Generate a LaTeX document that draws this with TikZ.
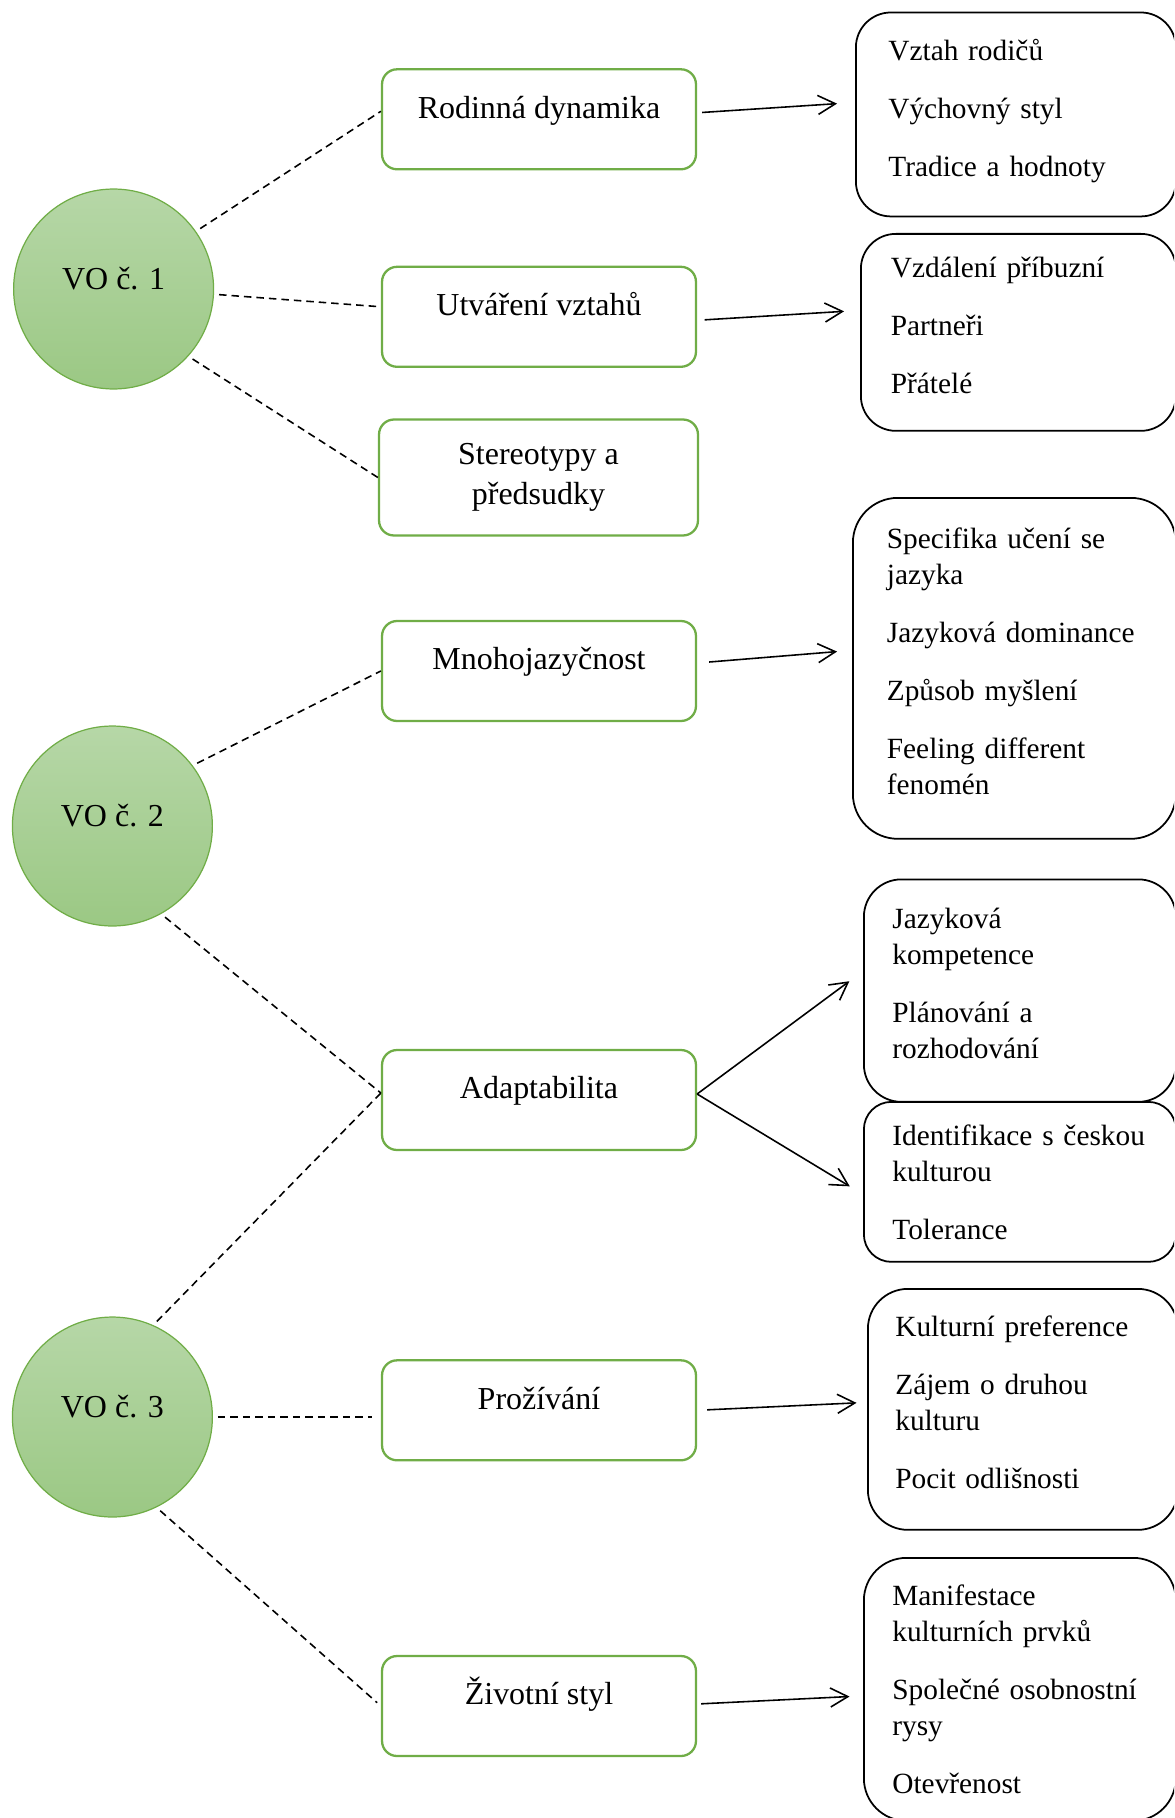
\documentclass[tikz,border=0pt]{standalone}
\usepackage{fontspec}
\setmainfont{Liberation Serif}
\usepackage{tikz}
\usetikzlibrary{arrows.meta, positioning}
\definecolor{vogreen}{RGB}{112,173,71}
\definecolor{votop}{RGB}{182,215,167}
\definecolor{vobottom}{RGB}{155,200,132}

\begin{document}
\begin{tikzpicture}[
    x=0.02cm, y=-0.02cm,
    every node/.style={font=\fontsize{18.2}{23}\selectfont},
    vo/.style={circle, draw=vogreen, line width=0.7pt, minimum size=4cm, top color=votop, bottom color=vobottom, text height=0.44cm, text depth=0.44cm},
    topic/.style={rectangle, draw=vogreen, line width=1.3pt, rounded corners=0.3cm, minimum width=6.28cm, minimum height=2cm, fill=white, align=center},
    oneline/.style={text height=0.45cm, text depth=0.5cm},
    items/.style={rectangle, draw, line width=1pt, anchor=north west, align=left, text width=5.1cm, inner xsep=0.55cm, font=\fontsize{16.7}{20.5}\selectfont},
    lifted/.style={execute at end node={\rule[-0.28cm]{0pt}{0pt}}},
    link/.style={dash pattern=on 0.15cm off 0.1cm, line width=0.9pt, shorten <=0.1cm},
    arrow/.style={-{Straight Barb[length=0.35cm, width=0.38cm]}, line width=0.9pt}
]
\useasboundingbox (0,0) rectangle (1174,1818);
\clip (0,0) rectangle (1174,1818);

\node[vo] (vo1) at (113.6,289) {VO č. 1};
\node[vo] (vo2) at (112.4,826) {VO č. 2};
\node[vo] (vo3) at (112.4,1417) {VO č. 3};

\node[topic, oneline] (rod) at (539,119.3) {Rodinná dynamika};
\node[topic, oneline] (utv) at (539,316.8) {Utváření vztahů};
\node[topic, minimum width=6.38cm, minimum height=2.32cm] (ster) at (538.5,477.5) {Stereotypy a\\předsudky};
\node[topic, oneline] (mno) at (539,671) {Mnohojazyčnost};
\node[topic, oneline] (adapt) at (539,1100) {Adaptabilita};
\node[topic, oneline] (proz) at (539,1410.3) {Prožívání};
\node[topic, oneline] (ziv) at (539,1706) {Životní styl};

\node[items, lifted, rounded corners=0.7cm, minimum width=6.4cm, minimum height=4.08cm] (rodl) at (855,11.6) {Vztah rodičů\\[0.44cm]Výchovný styl\\[0.44cm]Tradice a hodnoty};
\node[items, lifted, rounded corners=0.7cm, minimum width=6.3cm, minimum height=3.94cm] (utvl) at (860,233) {Vzdálení příbuzní\\[0.44cm]Partneři\\[0.44cm]Přátelé};
\node[items, lifted, rounded corners=0.9cm, minimum width=6.46cm, minimum height=6.82cm] (mnol) at (852,497) {Specifika učení se\\jazyka\\[0.44cm]Jazyková dominance\\[0.44cm]Způsob myšlení\\[0.44cm]Feeling different\\fenomén};
\node[items, lifted, rounded corners=0.75cm, minimum width=6.24cm, minimum height=4.45cm] (adaptl1) at (863,878.5) {Jazyková\\kompetence\\[0.44cm]Plánování a\\rozhodování};
\node[items, rounded corners=0.55cm, minimum width=6.24cm, minimum height=3.2cm] (adaptl2) at (863,1101) {Identifikace s českou\\kulturou\\[0.44cm]Tolerance};
\node[items, lifted, rounded corners=0.8cm, minimum width=6.16cm, minimum height=4.82cm] (prozl) at (867,1288) {Kulturní preference\\[0.44cm]Zájem o druhou\\kulturu\\[0.44cm]Pocit odlišnosti};
\node[items, rounded corners=0.85cm, minimum width=6.24cm, minimum height=5.26cm] (zivl) at (863,1557) {Manifestace\\kulturních prvků\\[0.44cm]Společné osobnostní\\rysy\\[0.44cm]Otevřenost};

\draw[link] (vo1.35) -- ([yshift=0.16cm]rod.west);
\draw[link] (vo1.-3) -- ([yshift=0.2cm]utv.west);
\draw[link] (vo1.-42) -- (ster.west);
\draw[link] (vo2.37) -- (mno.west);
\draw[link] (vo2.-61) -- ([yshift=0.14cm]adapt.west);
\draw[link] (vo3.66) -- ([yshift=0.14cm]adapt.west);
\draw[link, shorten >=0.18cm] (vo3.0) -- (vo3.0 -| proz.west);
\draw[link, shorten >=0.1cm] (vo3.-64) -- (ziv.west);

\draw[arrow, shorten <=0.1cm, shorten >=0.36cm] ([yshift=0.13cm]rod.east) -- ([yshift=0.24cm]rodl.west);
\draw[arrow, shorten <=0.15cm, shorten >=0.32cm] ([yshift=-0.07cm]utv.east) -- ([yshift=0.44cm]utvl.west);
\draw[arrow, shorten <=0.24cm, shorten >=0.3cm] ([yshift=0.16cm]mno.east) -- ([yshift=0.36cm]mnol.west);
\draw[arrow, shorten >=0.34cm] ([yshift=0.12cm]adapt.east) -- ([yshift=0.39cm]adaptl1.west);
\draw[arrow, shorten >=0.31cm] ([yshift=0.12cm]adapt.east) -- ([yshift=-0.25cm]adaptl2.west);
\draw[arrow, shorten <=0.2cm, shorten >=0.21cm] (proz.east) -- ([yshift=0.14cm]prozl.west);
\draw[arrow, shorten <=0.08cm, shorten >=0.27cm] ([yshift=0.04cm]ziv.east) -- ([yshift=-0.13cm]zivl.west);

\end{tikzpicture}
\end{document}
